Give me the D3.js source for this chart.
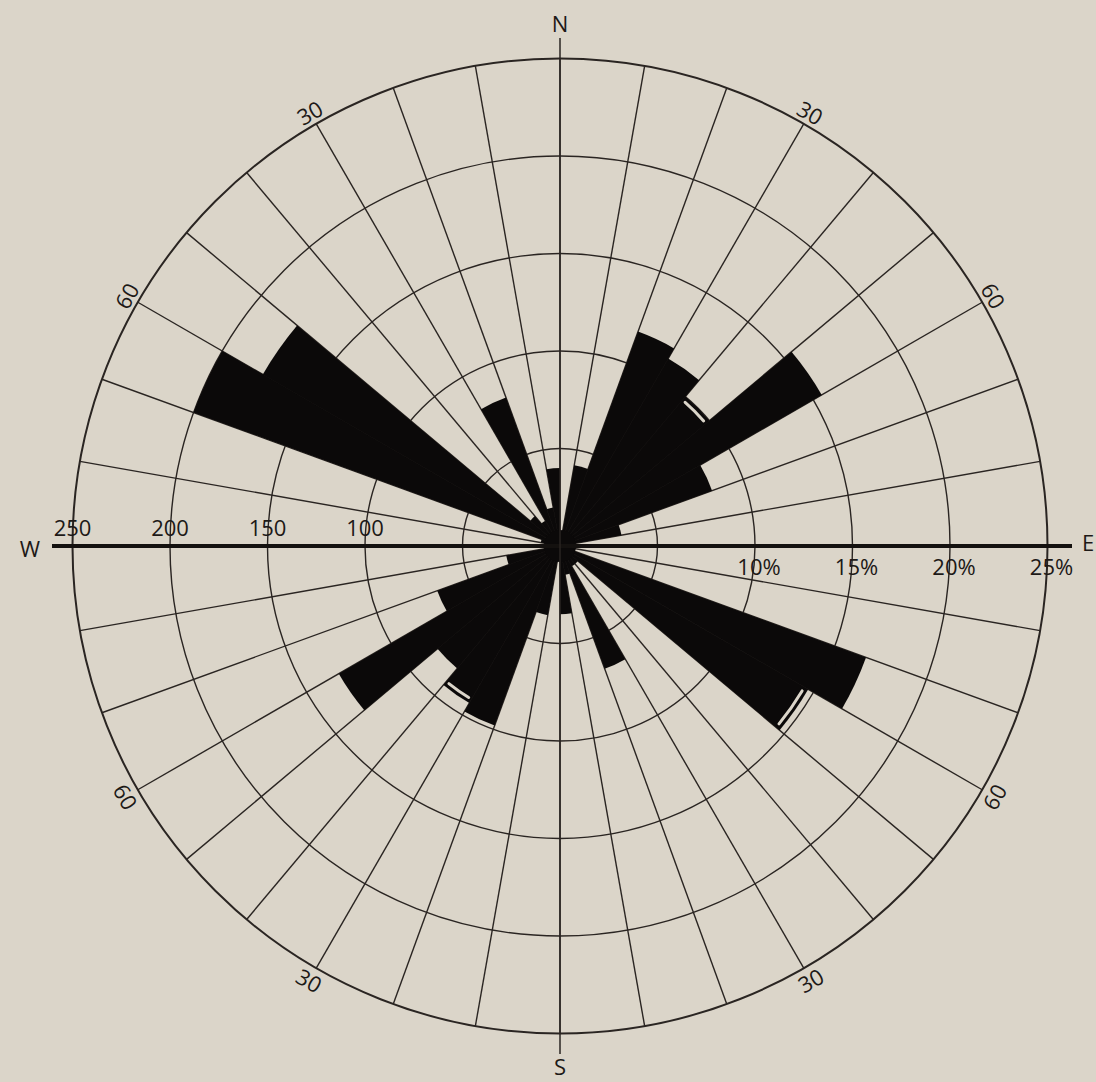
<!DOCTYPE html>
<html>
<head>
<meta charset="utf-8">
<script src="https://cdn.jsdelivr.net/npm/d3@7"></script>
<style>
  html, body { margin: 0; padding: 0; background: #dbd5c9; }
  svg text { font-family: "Open Sans", "DejaVu Sans", sans-serif; fill: #1d1917; }
</style>
</head>
<body>
<div id="chart"></div>
<script>
/* DATA */
// start bearing of each 10 degree sector, clockwise from north
const sectorStart = [0, 10, 20, 30, 40, 50, 60, 70, 80, 90, 100, 110,
  120, 130, 140, 150, 160, 170, 180, 190, 200, 210, 220, 230,
  240, 250, 260, 270, 280, 290, 300, 310, 320, 330, 340, 350];
// percent in each sector
const sectorPct = [0.5, 4.2, 11.7, 11.1, 10.0, 15.5, 8.3, 3.2, 0.3, 0.3, 0.3, 16.7,
  14.7, 1.2, 1.2, 6.7, 1.5, 3.5, 0.5, 3.6, 9.8, 9.3, 8.2, 13.1,
  6.7, 2.8, 0.8, 0.5, 1.0, 20.0, 17.6, 2.0, 1.5, 8.1, 2.0, 4.0];
// sectors whose bar end shows a thin white slit in the original drawing
const slitSectors = [40, 120, 210];
const ringPct = [5, 10, 15, 20, 25];
const countTicks = [100, 150, 200, 250];   // left half, counts
const pctTicks = [10, 15, 20, 25];         // right half, percent
const rimBearings = [30, 60, 120, 150, 210, 240, 300, 330];
const rimLabels = ["30", "60", "60", "30", "30", "60", "60", "30"];
const compassLabels = ["N", "E", "S", "W"];

/* LAYOUT */
const width = 1096, height = 1082;
const cx = 560, cy = 546;
const ink = "#2a2522";

const rScale = d3.scaleLinear().domain([0, 25]).range([0, 487.5]);
const rad = d => d * Math.PI / 180;
const px = (b, r) => r * Math.sin(rad(b));
const py = (b, r) => -r * Math.cos(rad(b));

const svg = d3.select("#chart").append("svg")
  .attr("width", width)
  .attr("height", height);

svg.append("rect")
  .attr("width", width).attr("height", height)
  .attr("fill", "#dbd5c9");

const g = svg.append("g").attr("transform", `translate(${cx},${cy})`);

// rings
g.selectAll(".ring")
  .data(ringPct)
  .join("circle")
  .attr("class", "ring")
  .attr("r", d => rScale(d))
  .attr("fill", "none")
  .attr("stroke", ink)
  .attr("stroke-width", d => d === 25 ? 2 : 1.4);

// spokes
g.selectAll(".spoke")
  .data(sectorStart)
  .join("line")
  .attr("class", "spoke")
  .attr("x1", 0).attr("y1", 0)
  .attr("x2", d => px(d, rScale(25)))
  .attr("y2", d => py(d, rScale(25)))
  .attr("stroke", ink)
  .attr("stroke-width", 1.4);

// rose bars
const arc = d3.arc()
  .innerRadius(0)
  .outerRadius(d => rScale(d.pct))
  .startAngle(d => rad(d.start))
  .endAngle(d => rad(d.start + 10));

const sectors = sectorStart.map((s, i) => ({ start: s, pct: sectorPct[i] }));

g.selectAll(".bar")
  .data(sectors)
  .join("path")
  .attr("class", "bar")
  .attr("d", arc)
  .attr("fill", "#0b0909");

// white slits near a few bar ends
const slitArc = d3.arc()
  .innerRadius(d => rScale(d.pct) - 6)
  .outerRadius(d => rScale(d.pct) - 3)
  .startAngle(d => rad(d.start + 0.6))
  .endAngle(d => rad(d.start + 9.4))
  .cornerRadius(1.5);

g.selectAll(".slit")
  .data(sectors.filter(d => slitSectors.includes(d.start)))
  .join("path")
  .attr("class", "slit")
  .attr("d", slitArc)
  .attr("fill", "#dbd5c9");

g.append("circle").attr("r", 16).attr("fill", "#0b0909");

// main axes
g.append("line")
  .attr("x1", 52 - cx).attr("x2", 1072 - cx)
  .attr("y1", 0).attr("y2", 0)
  .attr("stroke", "#14110f").attr("stroke-width", 4);

g.append("line")
  .attr("x1", 0).attr("x2", 0)
  .attr("y1", 38 - cy).attr("y2", 1054 - cy)
  .attr("stroke", ink).attr("stroke-width", 1.5);

// tick labels
g.selectAll(".count")
  .data(countTicks)
  .join("text")
  .attr("class", "count")
  .attr("x", d => -rScale(d / 10))
  .attr("y", -10)
  .attr("text-anchor", "middle")
  .attr("font-size", 22)
  .text(d => d);

g.selectAll(".pct")
  .data(pctTicks)
  .join("text")
  .attr("class", "pct")
  .attr("x", d => rScale(d) + 4)
  .attr("y", 29)
  .attr("text-anchor", "middle")
  .attr("font-size", 22)
  .text(d => d + "%");

// rim labels
g.selectAll(".rim")
  .data(rimBearings)
  .join("text")
  .attr("class", "rim")
  .attr("transform", d => {
    const rot = ((d + 90) % 180) - 90;
    return `translate(${px(d, 501)},${py(d, 501)}) rotate(${rot})`;
  })
  .attr("text-anchor", "middle")
  .attr("dominant-baseline", "central")
  .attr("font-size", 22)
  .text((d, i) => rimLabels[i]);

// compass letters
const compassPos = [[0, -523], [528, -4], [0, 520], [-530, 2]];
g.selectAll(".compass")
  .data(compassLabels)
  .join("text")
  .attr("class", "compass")
  .attr("x", (d, i) => compassPos[i][0])
  .attr("y", (d, i) => compassPos[i][1])
  .attr("text-anchor", "middle")
  .attr("dominant-baseline", "central")
  .attr("font-size", 22)
  .text(d => d);
</script>
</body>
</html>
